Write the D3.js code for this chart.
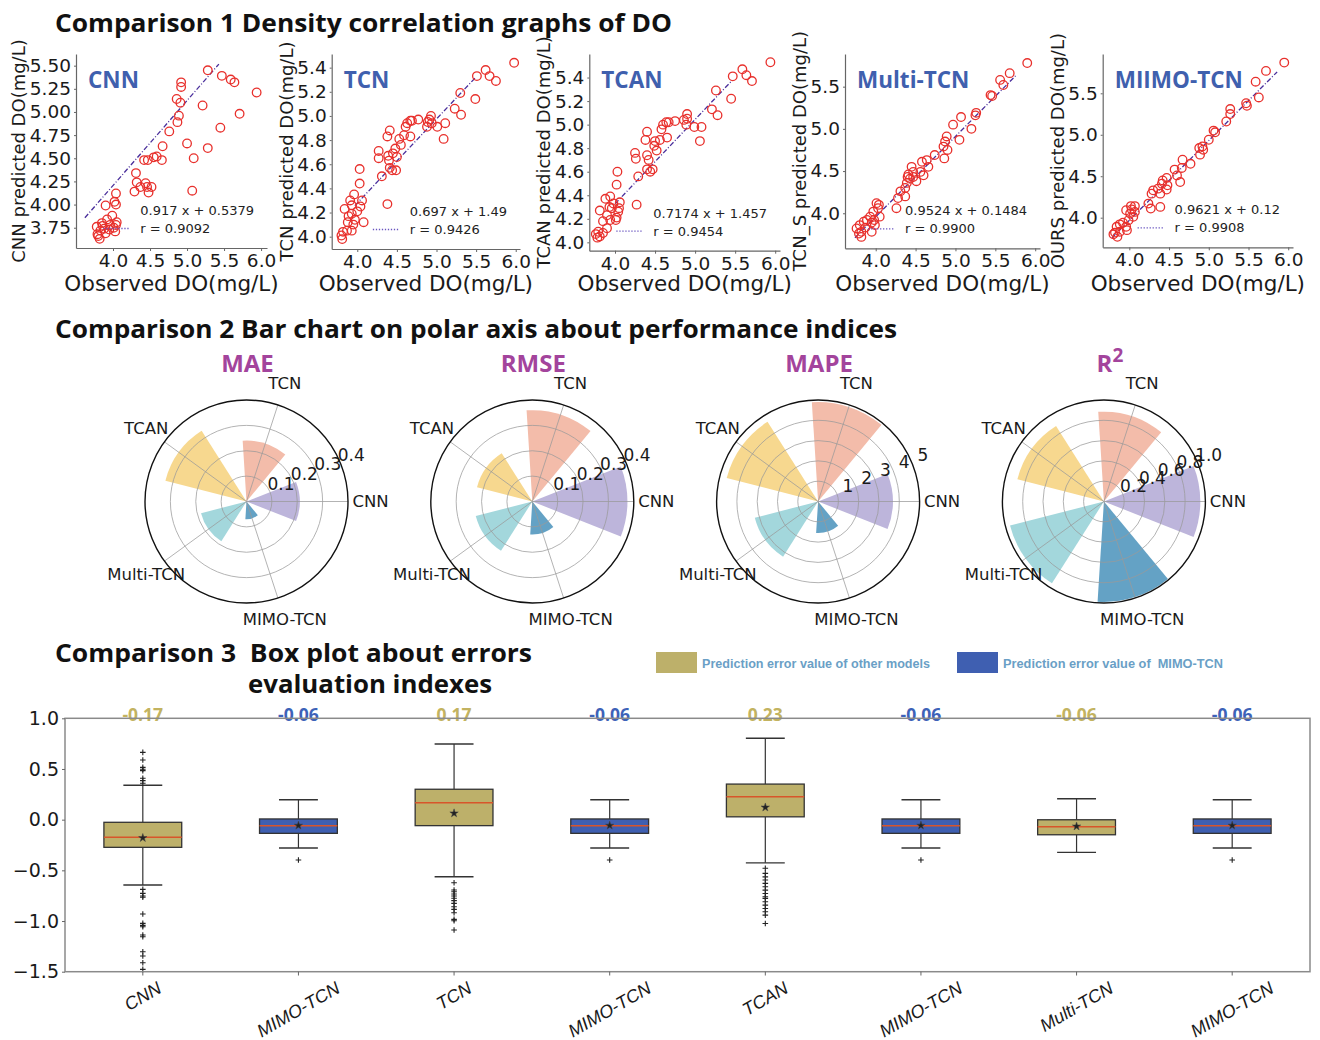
<!DOCTYPE html>
<html><head><meta charset="utf-8">
<script src="https://cdn.jsdelivr.net/npm/d3@7"></script>
<style>body{margin:0;background:#fff} svg{display:block} text{white-space:pre}</style>
</head><body>
<svg id="c" width="1320" height="1040"></svg>
<script>
// ---------------- DATA ----------------
const sectionTitles = ["Comparison 1 Density correlation graphs of DO",
  "Comparison 2 Bar chart on polar axis about performance indices",
  "Comparison 3  Box plot about errors", "evaluation indexes"];

const scatterTitles = ["CNN", "TCN", "TCAN", "Multi-TCN", "MIIMO-TCN"];
const scatterYLabels = ["CNN predicted DO(mg/L)", "TCN predicted DO(mg/L)", "TCAN predicted DO(mg/L)", "TCN_S predicted DO(mg/L)", "OURS predicted DO(mg/L)"];
const scatterXLabel = "Observed DO(mg/L)";
const fitTexts = ["0.917 x + 0.5379", "0.697 x + 1.49", "0.7174 x + 1.457", "0.9524 x + 0.1484", "0.9621 x + 0.12"];
const rTexts = ["r = 0.9092", "r = 0.9426", "r = 0.9454", "r = 0.9900", "r = 0.9908"];
const fitSlopes = [0.917, 0.697, 0.7174, 0.9524, 0.9621];
const fitIntercepts = [0.5379, 1.49, 1.457, 0.1484, 0.12];
const fitXRanges = [[3.62, 5.43], [3.97, 5.49], [4.0, 5.46], [3.74, 5.77], [3.78, 5.86]];
const scatterXDomains = [[3.5, 6.08], [3.677, 6.054], [3.679, 6.06], [3.615, 6.06], [3.665, 6.06]];
const scatterYDomains = [[3.531, 5.626], [3.898, 5.513], [3.929, 5.60], [3.585, 5.887], [3.643, 5.974]];
const scatterXTicks = [4.0, 4.5, 5.0, 5.5, 6.0];
const scatterYTicks = [
  [3.75, 4.00, 4.25, 4.50, 4.75, 5.00, 5.25, 5.50],
  [4.0, 4.2, 4.4, 4.6, 4.8, 5.0, 5.2, 5.4],
  [4.0, 4.2, 4.4, 4.6, 4.8, 5.0, 5.2, 5.4],
  [4.0, 4.5, 5.0, 5.5],
  [4.0, 4.5, 5.0, 5.5]];
const scatterYFormats = [".2f", ".1f", ".1f", ".1f", ".1f"];

const cnnPoints = [[5.28,5.45],[5.47,5.39],[5.59,5.35],[5.64,5.32],[5.94,5.21],[5.71,4.98],[5.45,4.83],[5.28,4.61],[5.21,5.07],[5.00,4.66],[5.09,4.50],[5.07,4.15],[4.92,5.32],[4.92,5.27],[4.86,5.14],[4.91,5.10],[4.89,4.96],[4.87,4.89],[4.76,4.79],[4.67,4.63],[4.59,4.52],[4.55,4.51],[4.66,4.48],[4.47,4.48],[4.42,4.48],[4.32,4.24],[4.31,4.34],[4.44,4.23],[4.46,4.19],[4.37,4.19],[4.52,4.19],[4.48,4.13],[4.29,4.14],[4.04,4.12],[4.02,4.03],[4.04,4.00],[3.90,3.99],[3.99,3.88],[3.92,3.84],[3.85,3.80],[3.78,3.76],[4.05,3.81],[3.96,3.78],[3.83,3.72],[3.79,3.68],[3.82,3.63],[3.90,3.69],[4.03,3.71],[4.01,3.75],[3.88,3.74],[3.86,3.77],[3.95,3.73],[4.04,3.78],[3.80,3.66]];
const tcnPoints = [[5.98,5.44],[5.51,5.33],[5.62,5.38],[5.67,5.33],[5.75,5.29],[5.30,5.19],[5.49,5.14],[5.23,5.06],[5.31,5.01],[5.09,4.81],[5.11,4.94],[5.01,4.91],[4.93,5.00],[4.91,4.97],[4.89,4.95],[4.94,4.94],[4.88,4.91],[4.77,4.97],[4.67,4.96],[4.63,4.94],[4.69,4.96],[4.61,4.91],[4.67,4.83],[4.59,4.84],[4.53,4.81],[4.55,4.76],[4.48,4.73],[4.50,4.66],[4.45,4.69],[4.41,4.88],[4.38,4.83],[4.27,4.71],[4.27,4.65],[4.39,4.67],[4.40,4.63],[4.41,4.57],[4.49,4.55],[4.44,4.55],[4.31,4.50],[4.38,4.27],[4.03,4.56],[4.03,4.44],[4.06,4.30],[4.04,4.25],[4.08,4.12],[4.00,4.21],[3.96,4.35],[3.91,4.30],[3.84,4.23],[3.93,4.19],[3.97,4.14],[3.88,4.12],[3.82,4.04],[3.80,4.01],[3.87,4.05],[3.93,4.05],[3.93,4.26],[3.89,4.17],[3.81,3.98],[3.95,4.10]];
const tcanPoints = [[5.94,5.53],[5.59,5.47],[5.64,5.42],[5.71,5.37],[5.47,5.41],[5.26,5.29],[5.45,5.22],[5.21,5.13],[5.28,5.08],[5.06,4.86],[5.08,4.98],[4.99,4.98],[4.90,5.09],[4.90,5.05],[4.86,5.04],[4.89,5.00],[4.75,5.03],[4.64,5.02],[4.60,5.00],[4.67,5.02],[4.58,4.96],[4.65,4.89],[4.56,4.87],[4.50,4.86],[4.52,4.78],[4.49,4.82],[4.40,4.94],[4.38,4.87],[4.25,4.76],[4.26,4.71],[4.40,4.74],[4.42,4.70],[4.40,4.62],[4.47,4.62],[4.44,4.60],[4.29,4.56],[4.03,4.60],[4.02,4.49],[4.27,4.32],[4.06,4.34],[4.04,4.26],[3.98,4.33],[3.94,4.39],[3.88,4.37],[3.81,4.27],[3.90,4.23],[3.94,4.19],[3.85,4.18],[3.79,4.09],[3.76,4.07],[3.81,4.05],[3.90,4.12],[4.01,4.19],[4.05,4.29],[3.96,4.29],[3.85,4.08],[3.78,4.04],[3.93,4.30],[4.02,4.21]];
const multiPoints = [[5.90,5.78],[5.68,5.66],[5.56,5.58],[5.60,5.52],[5.44,5.40],[5.46,5.39],[5.26,5.19],[5.25,5.16],[5.20,5.00],[5.07,5.14],[4.97,5.05],[5.05,4.87],[4.89,4.91],[4.87,4.85],[4.90,4.75],[4.86,4.65],[4.85,4.79],[4.74,4.69],[4.64,4.63],[4.66,4.55],[4.58,4.61],[4.56,4.49],[4.60,4.45],[4.47,4.49],[4.47,4.43],[4.43,4.41],[4.41,4.46],[4.51,4.38],[4.45,4.55],[4.39,4.36],[4.37,4.30],[4.31,4.26],[4.28,4.18],[4.26,4.06],[4.37,4.20],[4.40,4.43],[4.01,4.12],[4.03,4.06],[3.97,4.02],[4.05,3.96],[3.93,3.96],[3.89,3.92],[3.85,3.90],[3.80,3.86],[3.76,3.82],[3.82,3.78],[3.87,3.83],[3.95,3.89],[3.99,3.86],[3.79,3.76],[3.82,3.72],[3.95,3.78],[4.04,4.10],[3.98,3.92]];
const mimoPoints = [[5.95,5.87],[5.72,5.77],[5.59,5.64],[5.63,5.45],[5.47,5.38],[5.48,5.35],[5.27,5.31],[5.27,5.25],[5.22,5.16],[5.06,5.05],[5.08,5.03],[5.00,4.94],[4.88,4.84],[4.92,4.86],[4.89,4.76],[4.93,4.82],[4.77,4.65],[4.67,4.70],[4.66,4.60],[4.64,4.43],[4.60,4.51],[4.57,4.58],[4.47,4.48],[4.48,4.39],[4.42,4.45],[4.41,4.41],[4.36,4.35],[4.39,4.29],[4.47,4.34],[4.30,4.33],[4.28,4.29],[4.24,4.17],[4.27,4.11],[4.39,4.13],[4.07,4.14],[4.02,4.14],[3.96,4.09],[4.01,4.05],[3.99,3.97],[3.92,3.94],[3.96,3.89],[3.88,3.92],[3.84,3.89],[3.82,3.82],[3.85,3.77],[3.88,3.83],[3.97,3.85],[4.05,4.01],[4.07,4.07],[3.80,3.80],[4.03,4.10]];
const scatterPoints = [cnnPoints, tcnPoints, tcanPoints, multiPoints, mimoPoints];

const polarModels = ["CNN", "TCN", "TCAN", "Multi-TCN", "MIMO-TCN"];
const polarTitles = ["MAE", "RMSE", "MAPE", "R"];
const maeValues = [0.21, 0.24, 0.33, 0.185, 0.07];
const rmseValues = [0.375, 0.36, 0.225, 0.23, 0.13];
const mapeValues = [3.68, 4.9, 4.65, 3.22, 1.55];
const r2Values = [0.95, 0.885, 0.88, 0.955, 0.99];
const polarValues = [maeValues, rmseValues, mapeValues, r2Values];
const polarMax = [0.4, 0.4, 5, 1.0];
const polarTicks = [[0.1, 0.2, 0.3, 0.4], [0.1, 0.2, 0.3, 0.4], [1, 2, 3, 4, 5], [0.2, 0.4, 0.6, 0.8, 1.0]];
const polarTickFormats = [".1f", ".1f", "d", ".1f"];
const polarColors = ["#bdb5db", "#f3bcaa", "#f7d88f", "#a3d7dc", "#64a2c5"];

const boxCategories = ["CNN", "MIMO-TCN", "TCN", "MIMO-TCN", "TCAN", "MIMO-TCN", "Multi-TCN", "MIMO-TCN"];
const boxIsMimo = [false, true, false, true, false, true, false, true];
const boxWhiskerLow = [-0.645, -0.28, -0.5625, -0.28, -0.426, -0.28, -0.323, -0.28];
const boxQ1 = [-0.273, -0.135, -0.059, -0.135, 0.028, -0.135, -0.149, -0.135];
const boxMedian = [-0.174, -0.06, 0.168, -0.06, 0.226, -0.06, -0.07, -0.06];
const boxQ3 = [-0.026, 0.007, 0.30, 0.007, 0.351, 0.007, -0.001, 0.007];
const boxWhiskerHigh = [0.339, 0.197, 0.747, 0.197, 0.803, 0.197, 0.206, 0.197];
const boxMean = [-0.18, -0.058, 0.063, -0.058, 0.121, -0.058, -0.066, -0.058];
const boxOutliers = [
  [0.664, 0.589, 0.516, 0.497, 0.484, 0.408, 0.385, 0.359, -0.688, -0.727, -0.753, -0.766, -0.931, -1.023, -1.043, -1.056, -1.138, -1.155, -1.303, -1.345, -1.411, -1.477],
  [-0.398],
  [-0.622, -0.694, -0.711, -0.734, -0.753, -0.776, -0.799, -0.826, -0.859, -0.885, -0.918, -0.984, -0.997, -1.089],
  [-0.398],
  [-0.48, -0.53, -0.564, -0.596, -0.629, -0.662, -0.695, -0.728, -0.761, -0.777, -0.81, -0.843, -0.876, -0.909, -0.942, -1.024],
  [-0.398],
  [],
  [-0.398]];
const boxMedianLabels = ["-0.17", "-0.06", "0.17", "-0.06", "0.23", "-0.06", "-0.06", "-0.06"];
const boxYTicks = [1.0, 0.5, 0.0, -0.5, -1.0, -1.5];
const legendLabels = ["Prediction error value of other models", "Prediction error value of  MIMO-TCN"];

// ---------------- DRAW ----------------
const svg = d3.select("#c");
svg.append("rect").attr("width", 1320).attr("height", 1040).attr("fill", "#fff");
const MPL = "'DejaVu Sans', sans-serif";
const BOLD = "'Open Sans', 'Noto Sans', sans-serif";

function sectionTitle(t, x, y, w) {
  svg.append("text").attr("x", x).attr("y", y).text(t)
    .attr("font-family", BOLD).attr("font-weight", 700).attr("font-size", 25.5).attr("fill", "#111")
    .attr("textLength", w).attr("lengthAdjust", "spacingAndGlyphs");
}
sectionTitle(sectionTitles[0], 55, 32, 617);
sectionTitle(sectionTitles[1], 55, 338, 842);
sectionTitle(sectionTitles[2], 55, 662, 477);
sectionTitle(sectionTitles[3], 248, 693, 244);

// ---- scatter panels ----
const scatterBoxes = [[76, 54, 267, 248], [331.7, 54, 520, 249], [589.3, 54, 780, 250.7], [845, 54, 1040, 248.3], [1102.7, 54, 1293, 247.3]];
scatterTitles.forEach((title, i) => {
  const [L, T, R, B] = scatterBoxes[i];
  const x = d3.scaleLinear().domain(scatterXDomains[i]).range([L, R]);
  const y = d3.scaleLinear().domain(scatterYDomains[i]).range([B, T]);
  const g = svg.append("g");
  const gx = g.append("g").attr("transform", `translate(0,${B})`)
    .call(d3.axisBottom(x).tickValues(scatterXTicks).tickFormat(d3.format(".1f")).tickSize(3).tickSizeOuter(0).tickPadding(3));
  const gy = g.append("g").attr("transform", `translate(${L},0)`)
    .call(d3.axisLeft(y).tickValues(scatterYTicks[i]).tickFormat(d3.format(scatterYFormats[i])).tickSize(2).tickSizeOuter(0).tickPadding(3));
  [gx, gy].forEach(a => {
    a.selectAll("text").attr("font-family", MPL).attr("font-size", 18.5).attr("fill", "#1a1a1a");
    a.select(".domain").attr("stroke", "#666").attr("stroke-width", 1.2);
    a.selectAll(".tick line").attr("stroke", "#666");
  });
  const yb = gy.node().getBBox();
  g.append("text").attr("transform", `translate(${L + yb.x - 11},${(T + B) / 2}) rotate(-90)`)
    .attr("text-anchor", "middle").attr("dominant-baseline", "central")
    .attr("font-family", MPL).attr("font-size", 18).attr("fill", "#1a1a1a").text(scatterYLabels[i]);
  g.append("text").attr("x", (L + R) / 2).attr("y", 291).attr("text-anchor", "middle")
    .attr("font-family", MPL).attr("font-size", 21.5).attr("fill", "#1a1a1a").text(scatterXLabel);
  // fit line
  const [fx0, fx1] = fitXRanges[i];
  g.append("path").attr("d", d3.line()([[x(fx0), y(fitSlopes[i] * fx0 + fitIntercepts[i])], [x(fx1), y(fitSlopes[i] * fx1 + fitIntercepts[i])]]))
    .attr("stroke", "#4a2f9c").attr("stroke-width", 1.3).attr("stroke-dasharray", "5,2,1,2").attr("fill", "none");
  // points
  g.append("g").selectAll("circle").data(scatterPoints[i]).join("circle")
    .attr("cx", d => x(d[0])).attr("cy", d => y(d[1])).attr("r", 4.3)
    .attr("fill", "none").attr("stroke", "#e8302c").attr("stroke-width", 1.3);
  // title
  g.append("text").attr("x", L + 12).attr("y", 88).text(title)
    .attr("font-family", BOLD).attr("font-weight", 700).attr("font-size", 22.5).attr("fill", "#3f60ae");
  // legend
  const lt1 = g.append("text").attr("y", B - 33).text(fitTexts[i]).attr("font-family", MPL).attr("font-size", 13).attr("fill", "#222");
  const lt2 = g.append("text").attr("y", B - 15).text(rTexts[i]).attr("font-family", MPL).attr("font-size", 13).attr("fill", "#222");
  const w = Math.max(lt1.node().getComputedTextLength(), lt2.node().getComputedTextLength());
  const tx = R - 13 - w;
  lt1.attr("x", tx); lt2.attr("x", tx);
  g.append("line").attr("x1", tx - 37).attr("x2", tx - 11).attr("y1", B - 19.5).attr("y2", B - 19.5)
    .attr("stroke", "#6a55c0").attr("stroke-width", 1.3).attr("stroke-dasharray", "1.3,1.7");
});

// ---- polar bars ----
const polarR = 101.5;
const barHalf = Math.PI / 5 * 0.6;
polarTitles.forEach((t, k) => {
  const cx = 246.5 + 285.8 * k, cy = 501.5;
  const g = svg.append("g").attr("transform", `translate(${cx},${cy})`);
  const r = d3.scaleLinear().domain([0, polarMax[k]]).range([0, polarR]);
  const theta = i => i * 2 * Math.PI / 5; // counterclockwise from east
  g.selectAll("path.bar").data(polarValues[k]).join("path").attr("class", "bar")
    .attr("d", (v, i) => d3.arc()({innerRadius: 0, outerRadius: r(v),
      startAngle: Math.PI / 2 - theta(i) - barHalf, endAngle: Math.PI / 2 - theta(i) + barHalf}))
    .attr("fill", (v, i) => polarColors[i]);
  polarTicks[k].filter(v => v < polarMax[k] - 1e-9).forEach(v => {
    g.append("circle").attr("r", r(v)).attr("fill", "none").attr("stroke", "#9a9a9a").attr("stroke-opacity", 0.75).attr("stroke-width", 1);
  });
  polarModels.forEach((m, i) => {
    g.append("line").attr("x1", 0).attr("y1", 0)
      .attr("x2", polarR * Math.cos(theta(i))).attr("y2", -polarR * Math.sin(theta(i)))
      .attr("stroke", "#9a9a9a").attr("stroke-opacity", 0.75).attr("stroke-width", 1);
    g.append("text").attr("x", 124 * Math.cos(theta(i))).attr("y", -124 * Math.sin(theta(i)))
      .attr("text-anchor", "middle").attr("dominant-baseline", "central")
      .attr("font-family", MPL).attr("font-size", 16.5).attr("fill", "#1a1a1a").text(m);
  });
  g.append("circle").attr("r", polarR).attr("fill", "none").attr("stroke", "#111").attr("stroke-width", 1.4);
  const a = 22.5 * Math.PI / 180;
  polarTicks[k].forEach(v => {
    g.append("text").attr("x", r(v) * Math.cos(a) + 11).attr("y", -r(v) * Math.sin(a) - 8)
      .attr("text-anchor", "middle").attr("dominant-baseline", "central")
      .attr("font-family", MPL).attr("font-size", 17).attr("fill", "#1a1a1a")
      .text(d3.format(polarTickFormats[k])(v));
  });
  const tt = svg.append("text").attr("x", cx + (k === 3 ? 6 : 1)).attr("y", 372).attr("text-anchor", "middle")
    .attr("font-family", BOLD).attr("font-weight", 700).attr("font-size", 24).attr("fill", "#a3449c").text(t);
  if (k === 3) tt.append("tspan").attr("dy", -10).attr("font-size", 19).text("2");
});

// ---- box plot ----
const bx = d3.scaleBand().domain(d3.range(boxCategories.length)).range([65, 1310]).paddingInner(0).paddingOuter(0);
const by = d3.scaleLinear().domain([-1.5, 1.0]).range([971.7, 718.3]);
const bw = bx.bandwidth() * 0.5;
const gold = "#bdb06a", blue = "#3f5fb1";
const gb = svg.append("g");
boxMedianLabels.forEach((lab, i) => {
  gb.append("text").attr("x", bx(i) + bx.bandwidth() / 2).attr("y", 721).attr("text-anchor", "middle")
    .attr("font-family", BOLD).attr("font-weight", 700).attr("font-size", 17.5)
    .attr("fill", boxIsMimo[i] ? "#3d62b8" : "#c3b360").text(lab);
});
boxCategories.forEach((c, i) => {
  const xc = bx(i) + bx.bandwidth() / 2;
  const g = gb.append("g");
  g.append("line").attr("x1", xc).attr("x2", xc).attr("y1", by(boxQ3[i])).attr("y2", by(boxWhiskerHigh[i])).attr("stroke", "#333").attr("stroke-width", 1.2);
  g.append("line").attr("x1", xc).attr("x2", xc).attr("y1", by(boxQ1[i])).attr("y2", by(boxWhiskerLow[i])).attr("stroke", "#333").attr("stroke-width", 1.2);
  [boxWhiskerHigh[i], boxWhiskerLow[i]].forEach(v => {
    g.append("line").attr("x1", xc - bw / 4).attr("x2", xc + bw / 4).attr("y1", by(v)).attr("y2", by(v)).attr("stroke", "#333").attr("stroke-width", 1.4);
  });
  g.append("rect").attr("x", xc - bw / 2).attr("width", bw)
    .attr("y", by(boxQ3[i])).attr("height", by(boxQ1[i]) - by(boxQ3[i]))
    .attr("fill", boxIsMimo[i] ? blue : gold).attr("stroke", "#333").attr("stroke-width", 1.3);
  g.append("line").attr("x1", xc - bw / 2).attr("x2", xc + bw / 2).attr("y1", by(boxMedian[i])).attr("y2", by(boxMedian[i]))
    .attr("stroke", "#d8552a").attr("stroke-width", 1.5);
  g.append("path").attr("transform", `translate(${xc},${by(boxMean[i])})`)
    .attr("d", d3.symbol(d3.symbolStar, 22)()).attr("fill", "#222").attr("stroke", "#444").attr("stroke-width", 0.5);
  boxOutliers[i].forEach(v => {
    const yy = by(v);
    g.append("path").attr("d", `M${xc - 2.8},${yy}H${xc + 2.8}M${xc},${yy - 2.8}V${yy + 2.8}`).attr("stroke", "#222").attr("stroke-width", 1.1);
  });
});
gb.append("rect").attr("x", 65).attr("y", 718.3).attr("width", 1310 - 65).attr("height", 971.7 - 718.3)
  .attr("fill", "none").attr("stroke", "#8a8a8a").attr("stroke-width", 1.5);
const gya = gb.append("g").attr("transform", "translate(65,0)")
  .call(d3.axisLeft(by).tickValues(boxYTicks).tickFormat(d3.format(".1f")).tickSize(3).tickSizeOuter(0).tickPadding(3));
gya.select(".domain").remove();
gya.selectAll("text").attr("font-family", MPL).attr("font-size", 19).attr("fill", "#1a1a1a");
gya.selectAll(".tick line").attr("stroke", "#666");
boxCategories.forEach((c, i) => {
  const xc = bx(i) + bx.bandwidth() / 2;
  gb.append("line").attr("x1", xc).attr("x2", xc).attr("y1", 971.7).attr("y2", 975.5).attr("stroke", "#666");
  const t = gb.append("text").attr("text-anchor", "middle").attr("dominant-baseline", "central")
    .attr("font-family", "'Liberation Sans Narrow', 'Liberation Sans', sans-serif").attr("font-style", "italic")
    .attr("font-size", 18).attr("fill", "#1a1a1a").text(c);
  const w = t.node().getComputedTextLength();
  const h = 15;
  const ang = 30 * Math.PI / 180;
  const yc = 980 + (w * Math.sin(ang) + h * Math.cos(ang)) / 2;
  t.attr("transform", `translate(${xc},${yc}) rotate(-30)`);
});
const legendX = [656, 957];
const legendW = [228, 220];
legendLabels.forEach((lab, i) => {
  svg.append("rect").attr("x", legendX[i]).attr("y", 652).attr("width", 41).attr("height", 21).attr("fill", i ? blue : gold);
  svg.append("text").attr("x", legendX[i] + 46).attr("y", 663).attr("dominant-baseline", "central")
    .attr("font-family", "'Liberation Sans Narrow', 'Liberation Sans', sans-serif").attr("font-weight", 700)
    .attr("font-size", 13).attr("fill", "#6a9fc6").attr("textLength", legendW[i]).attr("lengthAdjust", "spacingAndGlyphs").text(lab);
});
</script>
</body></html>
